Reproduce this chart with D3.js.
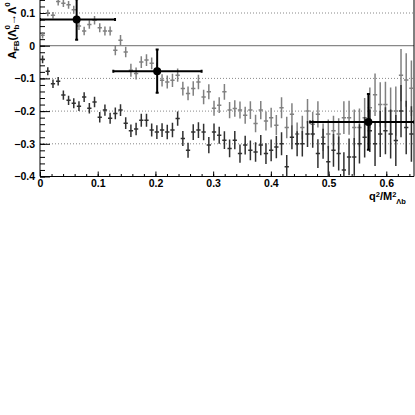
<!DOCTYPE html>
<html>
<head>
<meta charset="utf-8">
<script src="https://cdn.jsdelivr.net/npm/d3@7"></script>
<style>
  body { margin: 0; background: #fff; }
  text { font-family: "Liberation Sans", Arial, sans-serif; font-weight: bold; }
</style>
</head>
<body>
<div id="chart"></div>
<script>
// bin centres in q^2/M^2
const binCenters = [
  0.0045,0.0135,0.0225,0.0315,0.0405,0.0495,0.0585,0.0675,0.0765,0.0855,
  0.0945,0.1035,0.1125,0.1215,0.1305,0.1395,0.1485,0.1575,0.1665,0.1755,
  0.1845,0.1935,0.2025,0.2115,0.2205,0.2295,0.2385,0.2475,0.2565,0.2655,
  0.2745,0.2835,0.2925,0.3015,0.3105,0.3195,0.3285,0.3375,0.3465,0.3555,
  0.3645,0.3735,0.3825,0.3915,0.4005,0.4095,0.4185,0.4275,0.4365,0.4455,
  0.4545,0.4635,0.4725,0.4815,0.4905,0.4995,0.5085,0.5175,0.5265,0.5355,
  0.5445,0.5535,0.5625,0.5715,0.5805,0.5895,0.5985,0.6075,0.6165,0.6255,
  0.6345,0.6435
];

// light grey series
const lightValues = [
  0.032, 0.100, 0.093, 0.135, 0.130, 0.125, 0.110, 0.060, 0.045, 0.065,
  0.078, 0.055, 0.045, 0.045,-0.014, 0.017,-0.019,-0.075,-0.085,-0.050,
 -0.044,-0.054,-0.070,-0.106,-0.111,-0.106,-0.090,-0.131,-0.146,-0.131,
 -0.111,-0.157,-0.141,-0.191,-0.182,-0.141,-0.197,-0.192,-0.197,-0.213,
 -0.197,-0.238,-0.197,-0.230,-0.220,-0.243,-0.190,-0.250,-0.210,-0.270,
 -0.250,-0.200,-0.240,-0.210,-0.280,-0.270,-0.260,-0.270,-0.220,-0.220,
 -0.250,-0.250,-0.220,-0.190,-0.150,-0.180,-0.180,-0.200,-0.200,-0.090,
 -0.105,-0.130
];
const lightErrors = [
  0.010,0.010,0.010,0.012,0.012,0.012,0.012,0.012,0.013,0.013,
  0.013,0.014,0.014,0.014,0.015,0.016,0.016,0.020,0.018,0.018,
  0.018,0.018,0.019,0.019,0.020,0.020,0.020,0.021,0.021,0.022,
  0.022,0.022,0.023,0.023,0.024,0.024,0.025,0.025,0.026,0.026,
  0.027,0.027,0.028,0.029,0.030,0.031,0.032,0.033,0.034,0.035,
  0.036,0.037,0.038,0.040,0.042,0.044,0.046,0.048,0.050,0.052,
  0.055,0.058,0.060,0.062,0.065,0.068,0.070,0.072,0.075,0.080,
  0.082,0.085
];

// dark grey series
const darkValues = [
 -0.042,-0.078,-0.116,-0.109,-0.151,-0.167,-0.176,-0.185,-0.157,-0.191,
 -0.172,-0.219,-0.197,-0.222,-0.207,-0.197,-0.237,-0.260,-0.255,-0.228,
 -0.228,-0.258,-0.264,-0.258,-0.264,-0.258,-0.223,-0.284,-0.320,-0.264,
 -0.258,-0.264,-0.304,-0.264,-0.274,-0.289,-0.314,-0.289,-0.330,-0.304,
 -0.320,-0.325,-0.304,-0.330,-0.320,-0.310,-0.300,-0.370,-0.280,-0.300,
 -0.300,-0.270,-0.270,-0.330,-0.300,-0.355,-0.320,-0.330,-0.380,-0.340,
 -0.340,-0.300,-0.280,-0.260,-0.300,-0.270,-0.260,-0.270,-0.290,-0.200,
 -0.250,-0.270
];
const darkErrors = [
  0.012,0.012,0.013,0.013,0.014,0.014,0.015,0.015,0.015,0.016,
  0.016,0.016,0.017,0.017,0.018,0.018,0.018,0.019,0.019,0.020,
  0.020,0.020,0.021,0.021,0.022,0.022,0.022,0.023,0.023,0.024,
  0.024,0.025,0.025,0.026,0.026,0.027,0.027,0.028,0.028,0.029,
  0.030,0.030,0.031,0.032,0.033,0.034,0.035,0.036,0.037,0.038,
  0.039,0.040,0.042,0.044,0.046,0.048,0.050,0.052,0.054,0.056,
  0.058,0.060,0.062,0.065,0.068,0.070,0.072,0.075,0.078,0.080,
  0.082,0.085
];

// black measurements
const measX     = [0.0635, 0.203, 0.569];
const measXLow  = [0.0,    0.127, 0.468];
const measXHigh = [0.130,  0.280, 0.648];
const measY     = [0.080, -0.078, -0.233];
const measYErr  = [0.062,  0.066,  0.085];

const xTicks = [0, 0.1, 0.2, 0.3, 0.4, 0.5, 0.6];
const yTicks = [-0.4, -0.3, -0.2, -0.1, 0, 0.1];
const gridLines = [-0.3, -0.2, -0.1, 0.1];

const W = 415, H = 415;
const left = 40, right = 414, bottom = 176.5;

const svg = d3.select("#chart").append("svg")
  .attr("width", W).attr("height", H);

const x = d3.scaleLinear().domain([0, 0.648]).range([left, right]);
const y = d3.scaleLinear().domain([-0.4, 0.1]).range([bottom, 13]);

svg.append("defs").append("clipPath").attr("id", "frame")
  .append("rect").attr("x", left).attr("y", -40)
  .attr("width", right - left).attr("height", bottom + 40);

// grid
svg.append("g").selectAll("line").data(gridLines).enter().append("line")
  .attr("x1", left).attr("x2", right)
  .attr("y1", d => y(d)).attr("y2", d => y(d))
  .attr("stroke", "#888").attr("stroke-dasharray", "1,2");

svg.append("line")
  .attr("x1", left).attr("x2", right)
  .attr("y1", y(0)).attr("y2", y(0))
  .attr("stroke", "#888").attr("stroke-width", 1.2);

// axes
const minorX = d3.range(0, 0.641, 0.02);
const minorY = d3.range(-0.4, 0.141, 0.02);

svg.append("g").attr("transform", `translate(0,${bottom})`)
  .call(d3.axisBottom(x).tickValues(minorX).tickSize(-2.5).tickFormat(""))
  .call(g => g.select(".domain").remove());
svg.append("g").attr("transform", `translate(0,${bottom})`)
  .call(d3.axisBottom(x).tickValues(xTicks).tickSize(-5).tickPadding(3)
    .tickFormat(d => d === 0 ? "0" : d3.format(".1f")(d)))
  .call(g => g.select(".domain").attr("d", `M${left},0H${right}`))
  .call(g => g.selectAll("text").attr("font-size", 10.5).attr("fill", "#000"));

svg.append("g").attr("transform", `translate(${left},0)`)
  .call(d3.axisLeft(y).tickValues(minorY).tickSize(-5).tickFormat(""))
  .call(g => g.select(".domain").remove());
svg.append("g").attr("transform", `translate(${left},0)`)
  .call(d3.axisLeft(y).tickValues(yTicks).tickSize(-10).tickPadding(5)
    .tickFormat(d => d === 0 ? "0" : d3.format(".1f")(d)))
  .call(g => g.select(".domain").attr("d", `M0,${bottom}V-5`))
  .call(g => g.selectAll("text").attr("font-size", 10.5).attr("fill", "#000"));

svg.append("line").attr("x1", right).attr("x2", right)
  .attr("y1", -5).attr("y2", bottom).attr("stroke", "#000");

// data
const plot = svg.append("g").attr("clip-path", "url(#frame)");
const half = 0.0037;

function drawSeries(vals, errs, color) {
  const pts = binCenters.map((c, i) => ({c, v: vals[i], e: errs[i]}));
  const g = plot.append("g").attr("stroke", color).attr("stroke-width", 1.5);
  g.selectAll(".v").data(pts).enter().append("line")
    .attr("x1", d => x(d.c)).attr("x2", d => x(d.c))
    .attr("y1", d => y(d.v - d.e)).attr("y2", d => y(d.v + d.e));
  g.selectAll(".h").data(pts).enter().append("line")
    .attr("x1", d => x(d.c - half)).attr("x2", d => x(d.c + half))
    .attr("y1", d => y(d.v)).attr("y2", d => y(d.v));
}
drawSeries(lightValues, lightErrors, "#808080");
drawSeries(darkValues, darkErrors, "#303030");

const meas = measX.map((c, i) => ({c, lo: measXLow[i], hi: measXHigh[i], v: measY[i], e: measYErr[i]}));
const mg = plot.append("g").attr("stroke", "#000").attr("stroke-width", 2);
meas.forEach(d => {
  mg.append("line").attr("x1", x(d.lo)).attr("x2", x(d.hi))
    .attr("y1", y(d.v)).attr("y2", y(d.v));
  mg.append("line").attr("x1", x(d.c)).attr("x2", x(d.c))
    .attr("y1", y(d.v - d.e)).attr("y2", y(d.v + d.e));
  [d.lo, d.hi].forEach(t => mg.append("line")
    .attr("x1", x(t)).attr("x2", x(t))
    .attr("y1", y(d.v) - 1.5).attr("y2", y(d.v) + 1.5));
  [d.v - d.e, d.v + d.e].forEach(t => mg.append("line")
    .attr("x1", x(d.c) - 1.5).attr("x2", x(d.c) + 1.5)
    .attr("y1", y(t)).attr("y2", y(t)));
});
plot.append("g").selectAll("circle").data(meas).enter().append("circle")
  .attr("cx", d => x(d.c)).attr("cy", d => y(d.v)).attr("r", 4)
  .attr("fill", "#000");

// axis titles
const xt = svg.append("text").attr("x", 369).attr("y", 200)
  .attr("font-size", 11);
xt.append("tspan").text("q");
xt.append("tspan").attr("dy", -3).attr("font-size", 7.5).text("2");
xt.append("tspan").attr("dy", 3).text("/M");
xt.append("tspan").attr("dy", -3).attr("font-size", 7.5).text("2");
xt.append("tspan").attr("dy", 7).attr("font-size", 7.5).text("Λb");

const yt = svg.append("text").attr("transform", "translate(16,59) rotate(-90)")
  .attr("font-size", 11);
yt.append("tspan").text("A");
yt.append("tspan").attr("dy", 3).attr("font-size", 8).text("FB");
yt.append("tspan").attr("dy", -3).text("(Λ");
yt.append("tspan").attr("dy", 3).attr("font-size", 8).text("b");
yt.append("tspan").attr("dx", -5).attr("dy", -9).attr("font-size", 8).text("0");
yt.append("tspan").attr("dy", 6).text("→Λ");
yt.append("tspan").attr("dy", -6).attr("font-size", 8).text("0");
</script>
</body>
</html>
